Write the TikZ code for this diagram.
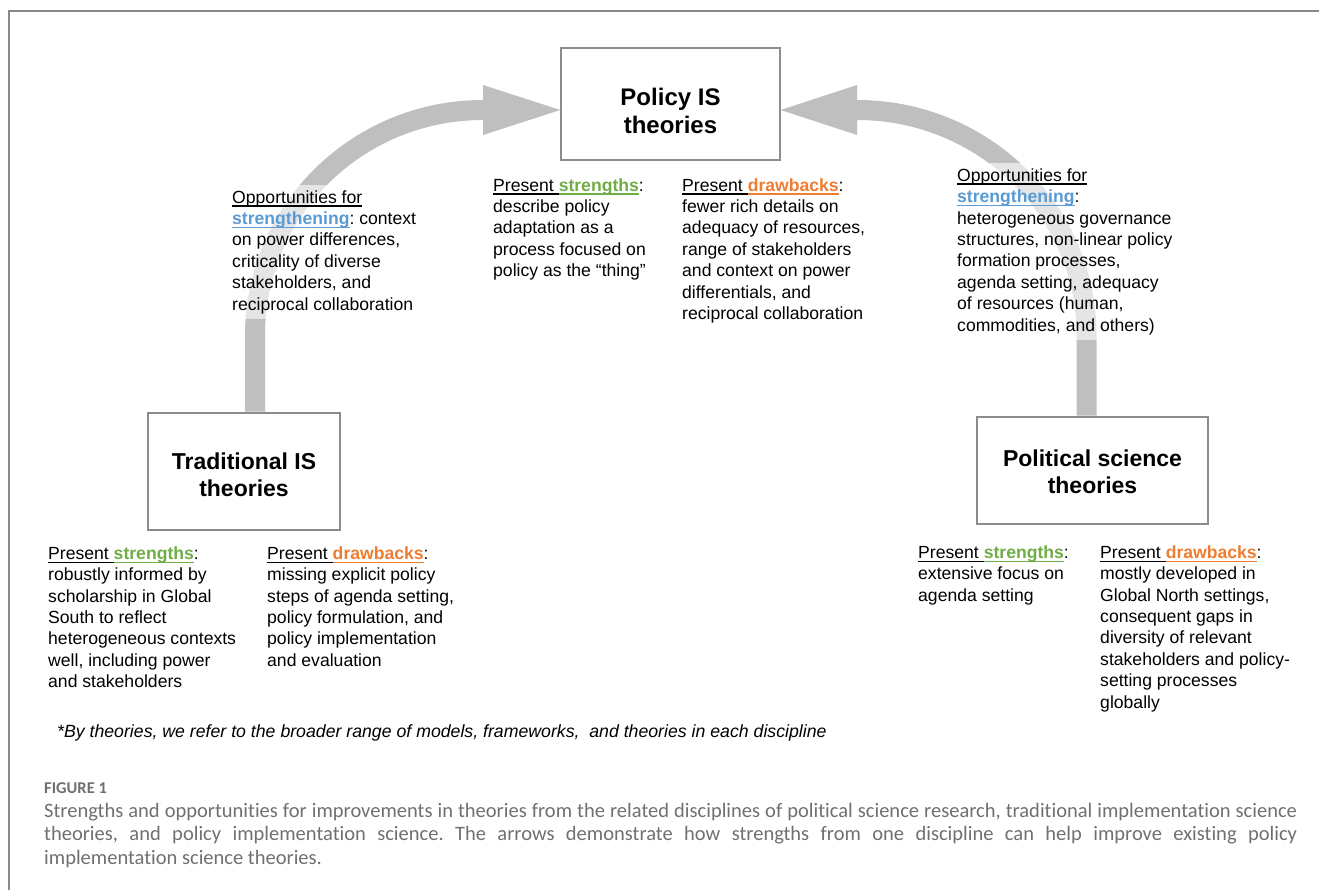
\documentclass[tikz,border=0pt]{standalone}
\usepackage{fontspec}
\setmainfont{Liberation Sans}
\newfontfamily\capfont[Ligatures={NoCommon,NoRare,NoDiscretionary}]{Carlito}
\usetikzlibrary{calc}
\definecolor{sgreen}{HTML}{70AD47}
\definecolor{dorange}{HTML}{ED7D31}
\definecolor{oblue}{HTML}{5B9BD5}
\definecolor{arrowgray}{HTML}{BFBFBF}
\definecolor{boxgray}{HTML}{8C8C8C}
\definecolor{framegray}{HTML}{8A8A8A}
\definecolor{capgray}{HTML}{707070}
\newsavebox\ulbox
\newcommand\ulx[1]{\sbox\ulbox{#1}\rlap{\rule[-3.4pt]{\wd\ulbox}{1.1pt}}\usebox\ulbox}
\newcommand\fl{\rule{0pt}{13pt}}
\newcommand\pstr{\fl\ulx{Present\ }\textcolor{sgreen}{\ulx{\bfseries strengths}}:}
\newcommand\pdraw{\fl\ulx{Present\ }\textcolor{dorange}{\ulx{\bfseries drawbacks}}:}
\newcommand\oppf{\fl\ulx{Opportunities for}\\\textcolor{oblue}{\ulx{\bfseries strengthening}}:}
\tikzset{
  titlebox/.style={draw=boxgray, line width=1.3pt, fill=white, inner sep=0pt},
  titletext/.style={align=center, inner sep=0pt, font=\fontsize{23}{27}\selectfont\bfseries},
  body/.style={align=left, anchor=north west, inner sep=0pt, font=\fontsize{17.6}{21.4}\selectfont},
  opp/.style={body, fill=white, fill opacity=0.6, text opacity=1, inner sep=5pt},
  bigarrow/.style={draw=arrowgray, line width=20pt},
  arrowhead/.style={fill=arrowgray, draw=none},
}
\begin{document}
\frenchspacing
\begin{tikzpicture}[x=1pt,y=-1pt]
\useasboundingbox (0,0) rectangle (1319,890);
\fill[white] (0,0) rectangle (1319,890);
\draw[framegray, line width=1.8pt] (9,890) -- (9,11) -- (1319,11);

% title boxes
\node[titlebox, minimum width=219pt, minimum height=112pt] (pol) at (670.5,104) {};
\node[titletext, font=\fontsize{24}{28}\selectfont\bfseries] (polt) at ([yshift=-7pt]pol.center) {Policy IS\\theories};
\node[titlebox, minimum width=192pt, minimum height=117pt] (trad) at (244,471.5) {};
\node[titletext] (tradt) at ([yshift=-3.5pt]trad.center) {Traditional IS\\theories};
\node[titlebox, minimum width=231pt, minimum height=107pt] (psci) at (1092.5,470.5) {};
\node[titletext] (pscit) at ([yshift=-1pt]psci.center) {Political science\\theories};

% left arrow
\coordinate (lbend) at (255,335);
\draw[bigarrow] ([xshift=11pt,yshift=0.7pt]trad.north) -- (lbend)
  arc[start angle=180, end angle=270, x radius=228, y radius=225] -- ++(2,0);
\fill[arrowhead] (483,85) -- ([yshift=-6pt]pol.west) -- (483,135) -- cycle;

% right arrow
\coordinate (rbend) at (1086.5,335);
\draw[bigarrow] ([xshift=-6pt,yshift=0.7pt]psci.north) -- (rbend)
  arc[start angle=0, end angle=-90, x radius=229.5, y radius=225] -- ++(-2,0);
\fill[arrowhead] (857,85) -- ([yshift=-6pt]pol.east) -- (857,135) -- cycle;

% opportunity texts
\node[opp] (oppl) at (227,185) {\oppf{} context\\on power differences,\\criticality of diverse\\stakeholders, and\\reciprocal collaboration};
\node[opp] (oppr) at (952,163) {\oppf\\heterogeneous governance\\structures, non-linear policy\\formation processes,\\agenda setting, adequacy\\of resources (human,\\commodities, and others)};

% policy IS texts
\node[body] (pols) at (493,178) {\pstr\\describe policy\\adaptation as a\\process focused on\\policy as the ``thing''};
\node[body] (pold) at (682,178) {\pdraw\\fewer rich details on\\adequacy of resources,\\range of stakeholders\\and context on power\\differentials, and\\reciprocal collaboration};

% traditional texts
\node[body] (trads) at (48,546) {\pstr\\robustly informed by\\scholarship in Global\\South to reflect\\heterogeneous contexts\\well, including power\\and stakeholders};
\node[body] (tradd) at (267,546) {\pdraw\\missing explicit policy\\steps of agenda setting,\\policy formulation, and\\policy implementation\\and evaluation};

% political science texts
\node[body] (pscis) at (918,545) {\pstr\\extensive focus on\\agenda setting};
\node[body] (pscid) at (1100,545) {\pdraw\\mostly developed in\\Global North settings,\\consequent gaps in\\diversity of relevant\\stakeholders and policy-\\setting processes\\globally};

% footnote
\node[anchor=base west, inner sep=0pt, font=\itshape\fontsize{17.7}{21}\selectfont] (foot) at (57,737) {*By theories, we refer to the broader range of models, frameworks,\ \ and theories in each discipline};

% caption
\node[anchor=base west, inner sep=0pt, text=capgray, font=\capfont\fontsize{16.5}{19}\selectfont\bfseries] (fig) at (44,793) {FIGURE 1};
\node[anchor=base west, inner sep=0pt, text=capgray, text width=1253pt, align=justify,
  font=\capfont\fontsize{20.5}{23.5}\selectfont] (cap) at (44,817)
  {Strengths and opportunities for improvements in theories from the related disciplines of political science research, traditional implementation science\linebreak theories, and policy implementation science. The arrows demonstrate how strengths from one discipline can help improve existing policy\linebreak implementation science theories.};
\end{tikzpicture}
\end{document}
